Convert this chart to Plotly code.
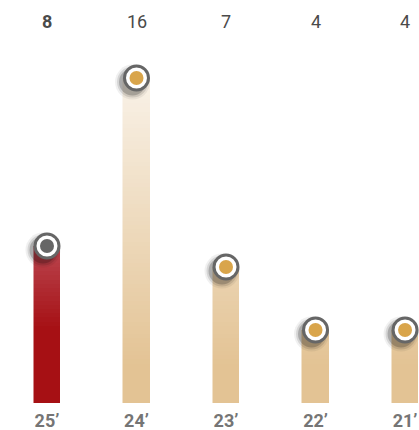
import numpy as np
import plotly.graph_objects as go

categories = ["25’", "24’", "23’", "22’", "21’"]
values = [8, 16, 7, 4, 4]
top_labels = ["<b>8</b>", "16", "7", "4", "4"]

RED = (166, 16, 20)
BEIGE = (227, 195, 148)
bar_base = [RED, BEIGE, BEIGE, BEIGE, BEIGE]
alpha_boost = [0.10, 0.0, 0.0, 0.0, 0.0]
dot_colors = ["#666666", "#d9a54b", "#d9a54b", "#d9a54b", "#d9a54b"]

# axis geometry (pixel mapping)
W, H = 419, 430
y_lo, y_hi = 0.524, 17.81
x_lo, x_hi = -0.525, 4.156
m_top, m_bot = 40, 27
px_per_y = (H - m_top - m_bot) / (y_hi - y_lo)
px_per_x = W / (x_hi - x_lo)


def alpha(v, boost):
    return float(np.clip(1.13 + boost - 0.057 * v, 0.0, 1.0))


def col(base, v, boost):
    a = alpha(v, boost)
    r, g, b = [round(255 + (c - 255) * a) for c in base]
    if base == RED:
        b = min(255, b + round(14 * (1 - a) * 2))
    return f"rgb({r},{g},{b})"


fig = go.Figure()
h = 0.2
K = int(np.ceil(max(values) / h))
for k in range(K):
    ys = [float(np.clip(v - k * h, 0, h)) for v in values]
    cs = [col(bar_base[i], k * h + h / 2, alpha_boost[i]) for i in range(len(values))]
    fig.add_trace(go.Bar(
        x=categories, y=ys, width=0.3,
        marker=dict(color=cs, line=dict(color=cs, width=0.5)),
        hoverinfo="skip", showlegend=False,
    ))

xi = list(range(len(categories)))
# shadow
dx = -4 / px_per_x
dy = -4 / px_per_y
for size, op in [(35, 0.06), (31, 0.11), (27, 0.2)]:
    fig.add_trace(go.Scatter(
        x=[i + dx for i in xi], y=[v + dy for v in values], mode="markers",
        xaxis="x2",
        marker=dict(size=size, color=f"rgba(0,0,0,{op})", line=dict(width=0)),
        hoverinfo="skip", showlegend=False, cliponaxis=False,
    ))
fig.add_trace(go.Scatter(
    x=xi, y=values, mode="markers", xaxis="x2",
    marker=dict(size=24, color="white", line=dict(color="#666666", width=3)),
    hoverinfo="skip", showlegend=False, cliponaxis=False,
))
fig.add_trace(go.Scatter(
    x=xi, y=values, mode="markers", xaxis="x2",
    marker=dict(size=14, color=dot_colors, line=dict(width=0)),
    hoverinfo="skip", showlegend=False, cliponaxis=False,
))

for i, t in enumerate(top_labels):
    fig.add_annotation(
        x=i, xref="x2", y=1 + (m_top - 21) / (H - m_top - m_bot), yref="paper",
        yanchor="middle", text=t, showarrow=False,
        font=dict(family="Roboto", size=18, color="#4a4a4a"),
    )

fig.update_layout(
    width=W, height=H,
    margin=dict(l=0, r=0, t=m_top, b=m_bot, autoexpand=False),
    barmode="stack", bargap=0,
    plot_bgcolor="white", paper_bgcolor="white",
    xaxis=dict(
        type="category", range=[x_lo, x_hi], showgrid=False, zeroline=False,
        showline=False, ticks="", ticklabelstandoff=5, automargin=False,
        tickfont=dict(family="Roboto", size=18, color="#757575", weight="bold"),
    ),
    xaxis2=dict(
        overlaying="x", range=[x_lo, x_hi], visible=False,
    ),
    yaxis=dict(range=[y_lo, y_hi], visible=False, showgrid=False),
)

fig.write_html("out.html")
